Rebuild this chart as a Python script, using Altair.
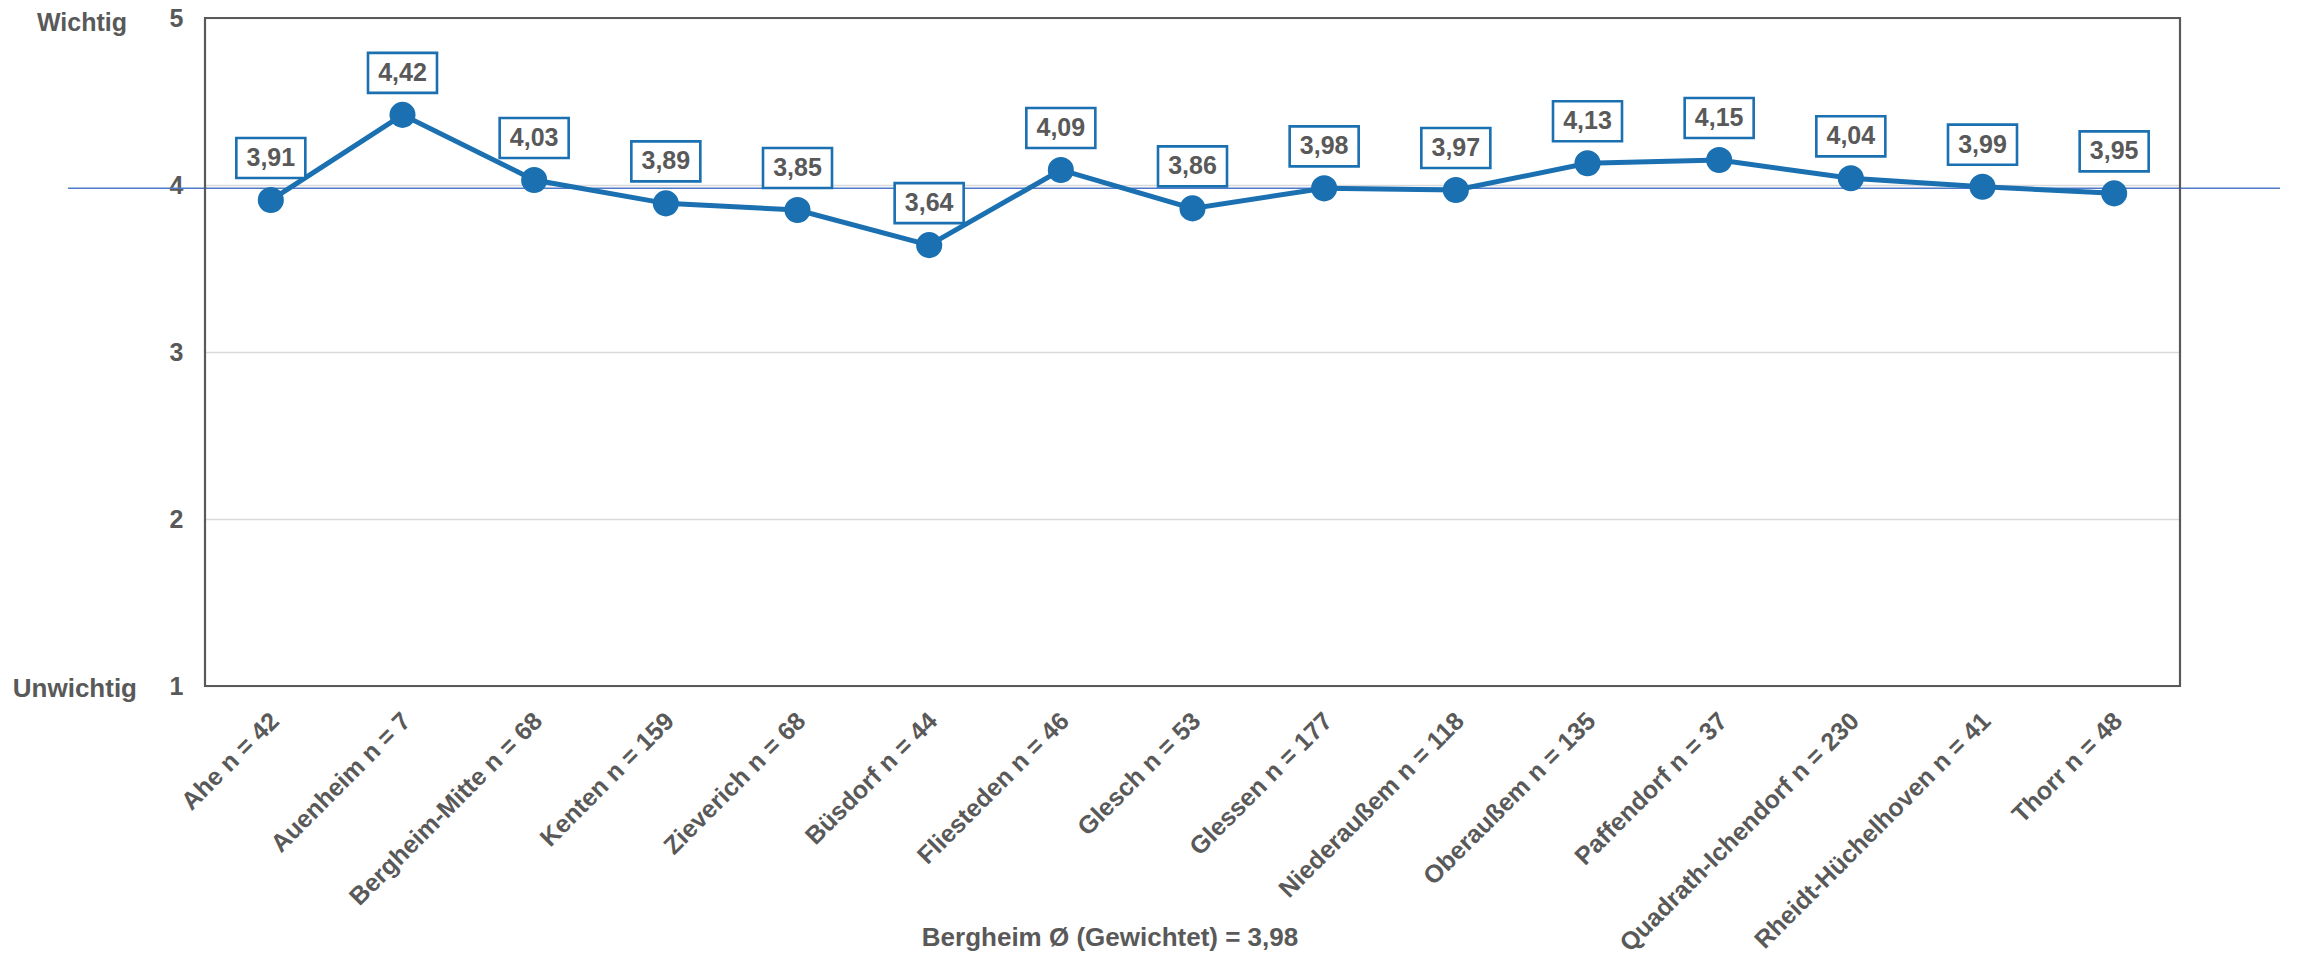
import altair as alt
import pandas as pd

orte = ["Ahe n = 42", "Auenheim n = 7", "Bergheim-Mitte n = 68", "Kenten n = 159",
        "Zieverich n = 68", "Büsdorf n = 44", "Fliesteden n = 46", "Glesch n = 53",
        "Glessen n = 177", "Niederaußem n = 118", "Oberaußem n = 135", "Paffendorf n = 37",
        "Quadrath-Ichendorf n = 230", "Rheidt-Hüchelhoven n = 41", "Thorr n = 48"]
werte = [3.91, 4.42, 4.03, 3.89, 3.85, 3.64, 4.09, 3.86, 3.98, 3.97, 4.13, 4.15, 4.04, 3.99, 3.95]
mittel = 3.98
titel = "Bergheim Ø (Gewichtet) = 3,98"
y_ticks = [1, 2, 3, 4, 5]

df = pd.DataFrame({"ort": orte, "wert": werte,
                   "label": [f"{v:.2f}".replace(".", ",") for v in werte]})

FONT = "Liberation Sans"
GRAY = "#595959"
BLUE = "#1a70b0"
W, H = 1975, 668

x_enc = alt.X("ort:N", sort=orte, title=None,
              axis=alt.Axis(labelAngle=-45, labelFont=FONT, labelFontSize=25,
                            labelFontWeight="bold", labelColor=GRAY, ticks=False,
                            domain=False, grid=False, labelPadding=22, labelOffset=-5,
                            labelAlign="right", labelBaseline="top", labelLimit=500))
y_scale = alt.Scale(domain=[1, 5], nice=False, zero=False)
y_enc = alt.Y("wert:Q", scale=y_scale, title=None,
              axis=alt.Axis(values=y_ticks, format="d", labelFont=FONT, labelFontSize=25,
                            labelFontWeight="bold", labelColor=GRAY, ticks=False,
                            domain=False, labelPadding=22, gridColor="#d9d9d9",
                            gridWidth=1.5))

base = alt.Chart(df)

line = base.mark_line(color=BLUE, strokeWidth=5).encode(x=x_enc, y=y_enc)
pts = base.mark_point(filled=True, opacity=1, color=BLUE, size=680).encode(x=x_enc, y=y_enc)

rule = alt.Chart(pd.DataFrame({"m": [mittel]})).mark_rule(
    color="#4f7ac7", strokeWidth=1.5).encode(
    y=alt.Y("m:Q", scale=y_scale), x=alt.value(-137), x2=alt.value(W + 140))

frame = alt.Chart(pd.DataFrame({"f": [0]})).mark_rect(
    fillOpacity=0, stroke=GRAY, strokeWidth=2.2).encode(
    x=alt.value(0), x2=alt.value(W), y=alt.value(0), y2=alt.value(H))

boxes = base.mark_point(
    shape="M-1,-0.58L1,-0.58L1,0.58L-1,0.58Z", size=69 * 69, filled=False,
    fill="white", fillOpacity=1, stroke=BLUE, strokeWidth=2.6, opacity=1,
    yOffset=-42).encode(x=x_enc, y=y_enc)

texts = base.mark_text(font=FONT, fontSize=25, fontWeight="bold", color=GRAY,
                       yOffset=-42, baseline="middle", align="center").encode(
    x=x_enc, y=y_enc, text="label:N")

side_top = alt.Chart(pd.DataFrame({"t": ["Wichtig"], "v": [5]})).mark_text(
    font=FONT, fontSize=25, fontWeight="bold", color=GRAY, align="right",
    baseline="alphabetic", dy=13).encode(
    y=alt.Y("v:Q", scale=y_scale), x=alt.value(-78), text="t:N")

side_bot = alt.Chart(pd.DataFrame({"t": ["Unwichtig"], "v": [1]})).mark_text(
    font=FONT, fontSize=26, fontWeight="bold", color=GRAY, align="right",
    baseline="middle", dy=3).encode(
    y=alt.Y("v:Q", scale=y_scale), x=alt.value(-68), text="t:N")

title_txt = alt.Chart(pd.DataFrame({"t": [titel]})).mark_text(
    font=FONT, fontSize=26, fontWeight="bold", color=GRAY, align="center",
    baseline="middle").encode(x=alt.value(905), y=alt.value(920), text="t:N")

chart = alt.layer(rule, frame, line, pts, boxes, texts, side_top, side_bot,
                  title_txt).properties(
    width=W, height=H,
    autosize=alt.AutoSizeParams(type="none"),
    padding={"left": 197, "top": 10, "right": 100, "bottom": 270},
).configure_view(strokeWidth=0).configure(background="white")

chart.save("out.html", embed_options={"renderer": "svg", "actions": False})
